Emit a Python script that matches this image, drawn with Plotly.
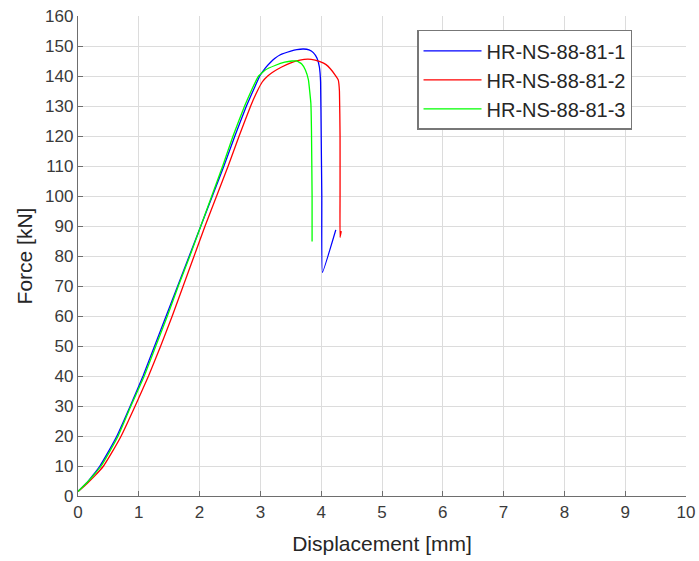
import plotly.graph_objects as go

# Specimen 1 (blue)
d1 = [0, 0.15, 0.25, 0.36, 0.50, 0.64, 0.86, 1.07, 1.26, 1.45, 1.64, 1.83, 2.02, 2.21, 2.40, 2.58, 2.77, 2.90, 2.99,
      3.08, 3.16, 3.24, 3.32, 3.50, 3.60, 3.71, 3.80, 3.87, 3.93, 3.97, 3.99, 4.00, 4.01, 4.02, 4.24]
f1 = [1.5, 4.5, 7.0, 10, 14.8, 20, 30, 40, 50, 60, 70, 80, 90, 100, 110, 120, 130, 136, 140,
      142.6, 144.4, 145.9, 147.0, 148.3, 148.8, 149.0, 148.7, 147.8, 146.0, 143.0, 138, 120, 100, 74.5, 88.7]

# Specimen 2 (red)
d2 = [0, 0.15, 0.28, 0.42, 0.56, 0.71, 0.94, 1.16, 1.36, 1.55, 1.73, 1.91, 2.09, 2.28, 2.47, 2.65, 2.84, 2.95, 3.03,
      3.12, 3.22, 3.35, 3.50, 3.65, 3.78, 3.90, 3.98, 4.08, 4.15, 4.23, 4.28, 4.30, 4.31, 4.31, 4.31, 4.33]
f2 = [1.5, 4.2, 6.8, 10, 14.6, 20, 30, 40, 50, 60, 70, 80, 90, 100, 110, 120, 130, 135.0, 138.0,
      140.0, 141.5, 143.0, 144.4, 145.3, 145.6, 145.3, 144.8, 143.8, 142.4, 140.3, 138.7, 135, 120, 100, 86.2, 88.3]

# Specimen 3 (green)
d3 = [0, 0.15, 0.26, 0.38, 0.52, 0.66, 0.87, 1.09, 1.28, 1.47, 1.65, 1.84, 2.02, 2.20, 2.38, 2.55, 2.74, 2.87, 2.97,
      3.08, 3.24, 3.40, 3.52, 3.60, 3.68, 3.74, 3.79, 3.83, 3.84, 3.85, 3.85]
f3 = [1.5, 4.5, 7.0, 10, 14.8, 20, 30, 40, 50, 60, 70, 80, 90, 100, 110, 120, 130, 136, 140,
      142.0, 143.5, 144.6, 145.0, 145.0, 144.0, 142.0, 138.7, 130.9, 122, 100, 84.8]

names = ["HR-NS-88-81-1", "HR-NS-88-81-2", "HR-NS-88-81-3"]
colors = ["#0000ff", "#ff0000", "#00ff00"]

x_ticks = list(range(0, 11))
y_ticks = list(range(0, 161, 10))

fig = go.Figure()
for d, f, n, c in zip([d1, d2, d3], [f1, f2, f3], names, colors):
    fig.add_trace(go.Scatter(x=d, y=f, mode="lines", name=n,
                             line=dict(color=c, width=1.3, shape="spline", smoothing=0.3)))

font_family = "Liberation Sans, Arial, sans-serif"
axis_common = dict(
    showgrid=True, gridcolor="#dcdcdc", gridwidth=1,
    showline=True, linecolor="#6e6e6e", linewidth=1.3,
    ticks="inside", ticklen=5, tickcolor="#6e6e6e", tickwidth=1,
    zeroline=False, mirror=False, automargin=False,
    tickfont=dict(family=font_family, size=17, color="#3a3a3a"),
)

fig.update_layout(
    width=699, height=561,
    margin=dict(l=78, r=13, t=16, b=65),
    paper_bgcolor="white", plot_bgcolor="white",
    font=dict(family=font_family, color="#262626"),
    xaxis=dict(range=[0, 10], tickvals=x_ticks,
               title=dict(text="Displacement [mm]", font=dict(family=font_family, size=21, color="#262626"), standoff=15),
               **axis_common),
    yaxis=dict(range=[0, 160], tickvals=y_ticks,
               title=dict(text="Force [kN]", font=dict(family=font_family, size=21, color="#262626"), standoff=6),
               **axis_common),
    legend=dict(x=0.5576, y=0.971, xanchor="left", yanchor="top",
                bgcolor="white", bordercolor="#777777", borderwidth=1.5,
                font=dict(family=font_family, size=20, color="#262626"),
                itemwidth=58, tracegroupgap=0),
    showlegend=True,
)

fig.write_html("out.html")
